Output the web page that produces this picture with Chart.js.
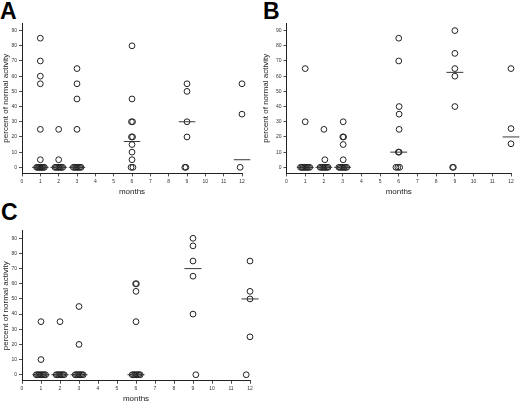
<!DOCTYPE html>
<html>
<head>
<meta charset="utf-8">
<script src="https://cdn.jsdelivr.net/npm/chart.js@4.4.1/dist/chart.umd.min.js"></script>
<style>
  html, body { margin: 0; padding: 0; background: #fff; width: 520px; height: 402px; overflow: hidden; }
  canvas { position: absolute; }
  .tag { position: absolute; font-family: "Liberation Sans", Arial, sans-serif; font-weight: bold; font-size: 23px; line-height: 23px; color: #000; }
</style>
</head>
<body>
<div class="tag" style="left:0px;top:0px">A</div>
<div class="tag" style="left:263px;top:0px">B</div>
<div class="tag" style="left:1px;top:201px">C</div>
<canvas id="chartA" width="260" height="200" style="left:0;top:0"></canvas>
<canvas id="chartB" width="260" height="200" style="left:260px;top:0"></canvas>
<canvas id="chartC" width="260" height="206" style="left:0;top:200px"></canvas>
<script>
// panel A: months (x as plotted, incl. offsets of overlapping points) and percent values
var aMonths = [1, 1, 1, 1, 1, 1, 0.8, 0.86, 0.92, 0.98, 1.04, 1.1, 1.16, 1.22,
  2, 2, 1.8, 1.87, 1.94, 2.01, 2.08, 2.15, 2.22,
  3, 3, 3, 3, 2.8, 2.87, 2.94, 3.01, 3.08, 3.15, 3.22,
  6, 6, 5.97, 6.03, 5.97, 6.03, 6, 6, 6, 5.95, 6.05,
  9, 9, 9, 9, 8.88, 8.94,
  12, 12, 11.9];
var aValues = [85, 70, 60, 55, 25, 5, 0, 0, 0, 0, 0, 0, 0, 0,
  25, 5, 0, 0, 0, 0, 0, 0, 0,
  65, 55, 45, 25, 0, 0, 0, 0, 0, 0, 0,
  80, 45, 30, 30, 20, 20, 15, 10, 5, 0, 0,
  55, 50, 30, 20, 0, 0,
  55, 35, 0];
var aMedianMonths = [1, 2, 3, 6, 9, 12];
var aMedians = [0, 0, 0, 17, 30, 5];

// panel B
var bMonths = [1, 1, 0.75, 0.82, 0.89, 0.96, 1.03, 1.1, 1.17, 1.24,
  2, 2.05, 1.8, 1.87, 1.94, 2.01, 2.08, 2.15, 2.22,
  3.03, 3.01, 3.05, 3.03, 3.03, 2.8, 2.87, 2.94, 3.01, 3.08, 3.15, 3.22,
  6, 6, 6.02, 6.02, 6.02, 5.98, 6.02, 5.85, 5.95, 6.05,
  9, 9, 9, 9, 9, 8.88, 8.92,
  12, 12, 12];
var bValues = [65, 30, 0, 0, 0, 0, 0, 0, 0, 0,
  25, 5, 0, 0, 0, 0, 0, 0, 0,
  30, 20, 20, 15, 5, 0, 0, 0, 0, 0, 0, 0,
  85, 70, 40, 35, 25, 10, 10, 0, 0, 0,
  90, 75, 65, 60, 40, 0, 0,
  65, 25.5, 15.5];
var bMedianMonths = [1, 2, 3, 6, 9, 12];
var bMedians = [0, 0, 0, 10, 62.5, 20];

// panel C
var cMonths = [1, 1, 0.75, 0.82, 0.89, 0.96, 1.03, 1.1, 1.17, 1.24,
  2, 1.8, 1.87, 1.94, 2.01, 2.08, 2.15, 2.22,
  3, 3, 2.8, 2.87, 2.94, 3.01, 3.08, 3.15, 3.22,
  5.98, 6.02, 6, 6, 5.8, 5.87, 5.94, 6.01, 6.08, 6.15, 6.22,
  9, 9, 9, 9, 9, 9.15,
  12, 12, 12, 12, 11.8];
var cValues = [35, 10, 0, 0, 0, 0, 0, 0, 0, 0,
  35, 0, 0, 0, 0, 0, 0, 0,
  45, 20, 0, 0, 0, 0, 0, 0, 0,
  60, 60, 55, 35, 0, 0, 0, 0, 0, 0, 0,
  90, 85, 75, 65, 40, 0,
  75, 55, 50, 25, 0];
var cMedianMonths = [1, 2, 3, 6, 9, 12];
var cMedians = [0, 0, 0, 0, 70, 50];

var yTickValues = [0, 10, 20, 30, 40, 50, 60, 70, 80, 90];
var fontFam = '"Liberation Sans", Arial, sans-serif';

function makePanel(id, months, values, medMonths, medians, lay) {
  var datasets = [{
    data: months.map(function (m, i) { return { x: m, y: values[i] }; }),
    pointStyle: 'circle',
    pointRadius: 2.9,
    pointBorderWidth: 1,
    pointBorderColor: '#222',
    pointBackgroundColor: 'rgba(255,255,255,0)',
    showLine: false,
    clip: false
  }];
  medMonths.forEach(function (m, i) {
    datasets.push({
      data: [{ x: m - 0.45, y: medians[i] }, { x: m + 0.45, y: medians[i] }],
      showLine: true,
      borderColor: '#222',
      borderWidth: 0.9,
      pointRadius: 0,
      clip: false
    });
  });

  return new Chart(document.getElementById(id).getContext('2d'), {
    type: 'scatter',
    data: { datasets: datasets },
    options: {
      responsive: false,
      animation: false,
      layout: { padding: { top: lay.top, right: lay.right, left: 0, bottom: 0 } },
      plugins: { legend: { display: false }, tooltip: { enabled: false } },
      scales: {
        x: {
          type: 'linear', min: 0, max: 12,
          ticks: { stepSize: 1, color: '#333', padding: 2, font: { family: fontFam, size: 5 } },
          grid: { drawOnChartArea: false, tickLength: 3, color: '#222', lineWidth: 0.8 },
          border: { color: '#222', width: 1 },
          title: { display: true, text: 'months', color: '#222', padding: { top: 0, bottom: lay.titleGap }, font: { family: fontFam, size: 8 } },
          afterFit: function (s) { s.height = lay.xHeight; }
        },
        y: {
          type: 'linear', min: -4, max: 95,
          afterBuildTicks: function (s) { s.ticks = yTickValues.map(function (v) { return { value: v }; }); },
          ticks: { color: '#333', padding: 2, font: { family: fontFam, size: 5 } },
          grid: { drawOnChartArea: false, tickLength: 3, color: '#222', lineWidth: 0.8 },
          border: { color: '#222', width: 1 },
          title: { display: true, text: 'percent of normal activity', color: '#222', padding: { top: 1, bottom: 0 }, font: { family: fontFam, size: 8 } },
          afterFit: function (s) { s.width = lay.yWidth; }
        }
      }
    }
  });
}

makePanel('chartA', aMonths, aValues, aMedianMonths, aMedians, { top: 23, right: 18, yWidth: 22, xHeight: 26.6, titleGap: 3 });
makePanel('chartB', bMonths, bValues, bMedianMonths, bMedians, { top: 23, right: 9, yWidth: 26.5, xHeight: 26.6, titleGap: 3 });
makePanel('chartC', cMonths, cValues, cMedianMonths, cMedians, { top: 30.7, right: 10, yWidth: 22, xHeight: 25.2, titleGap: 2 });
</script>
</body>
</html>
